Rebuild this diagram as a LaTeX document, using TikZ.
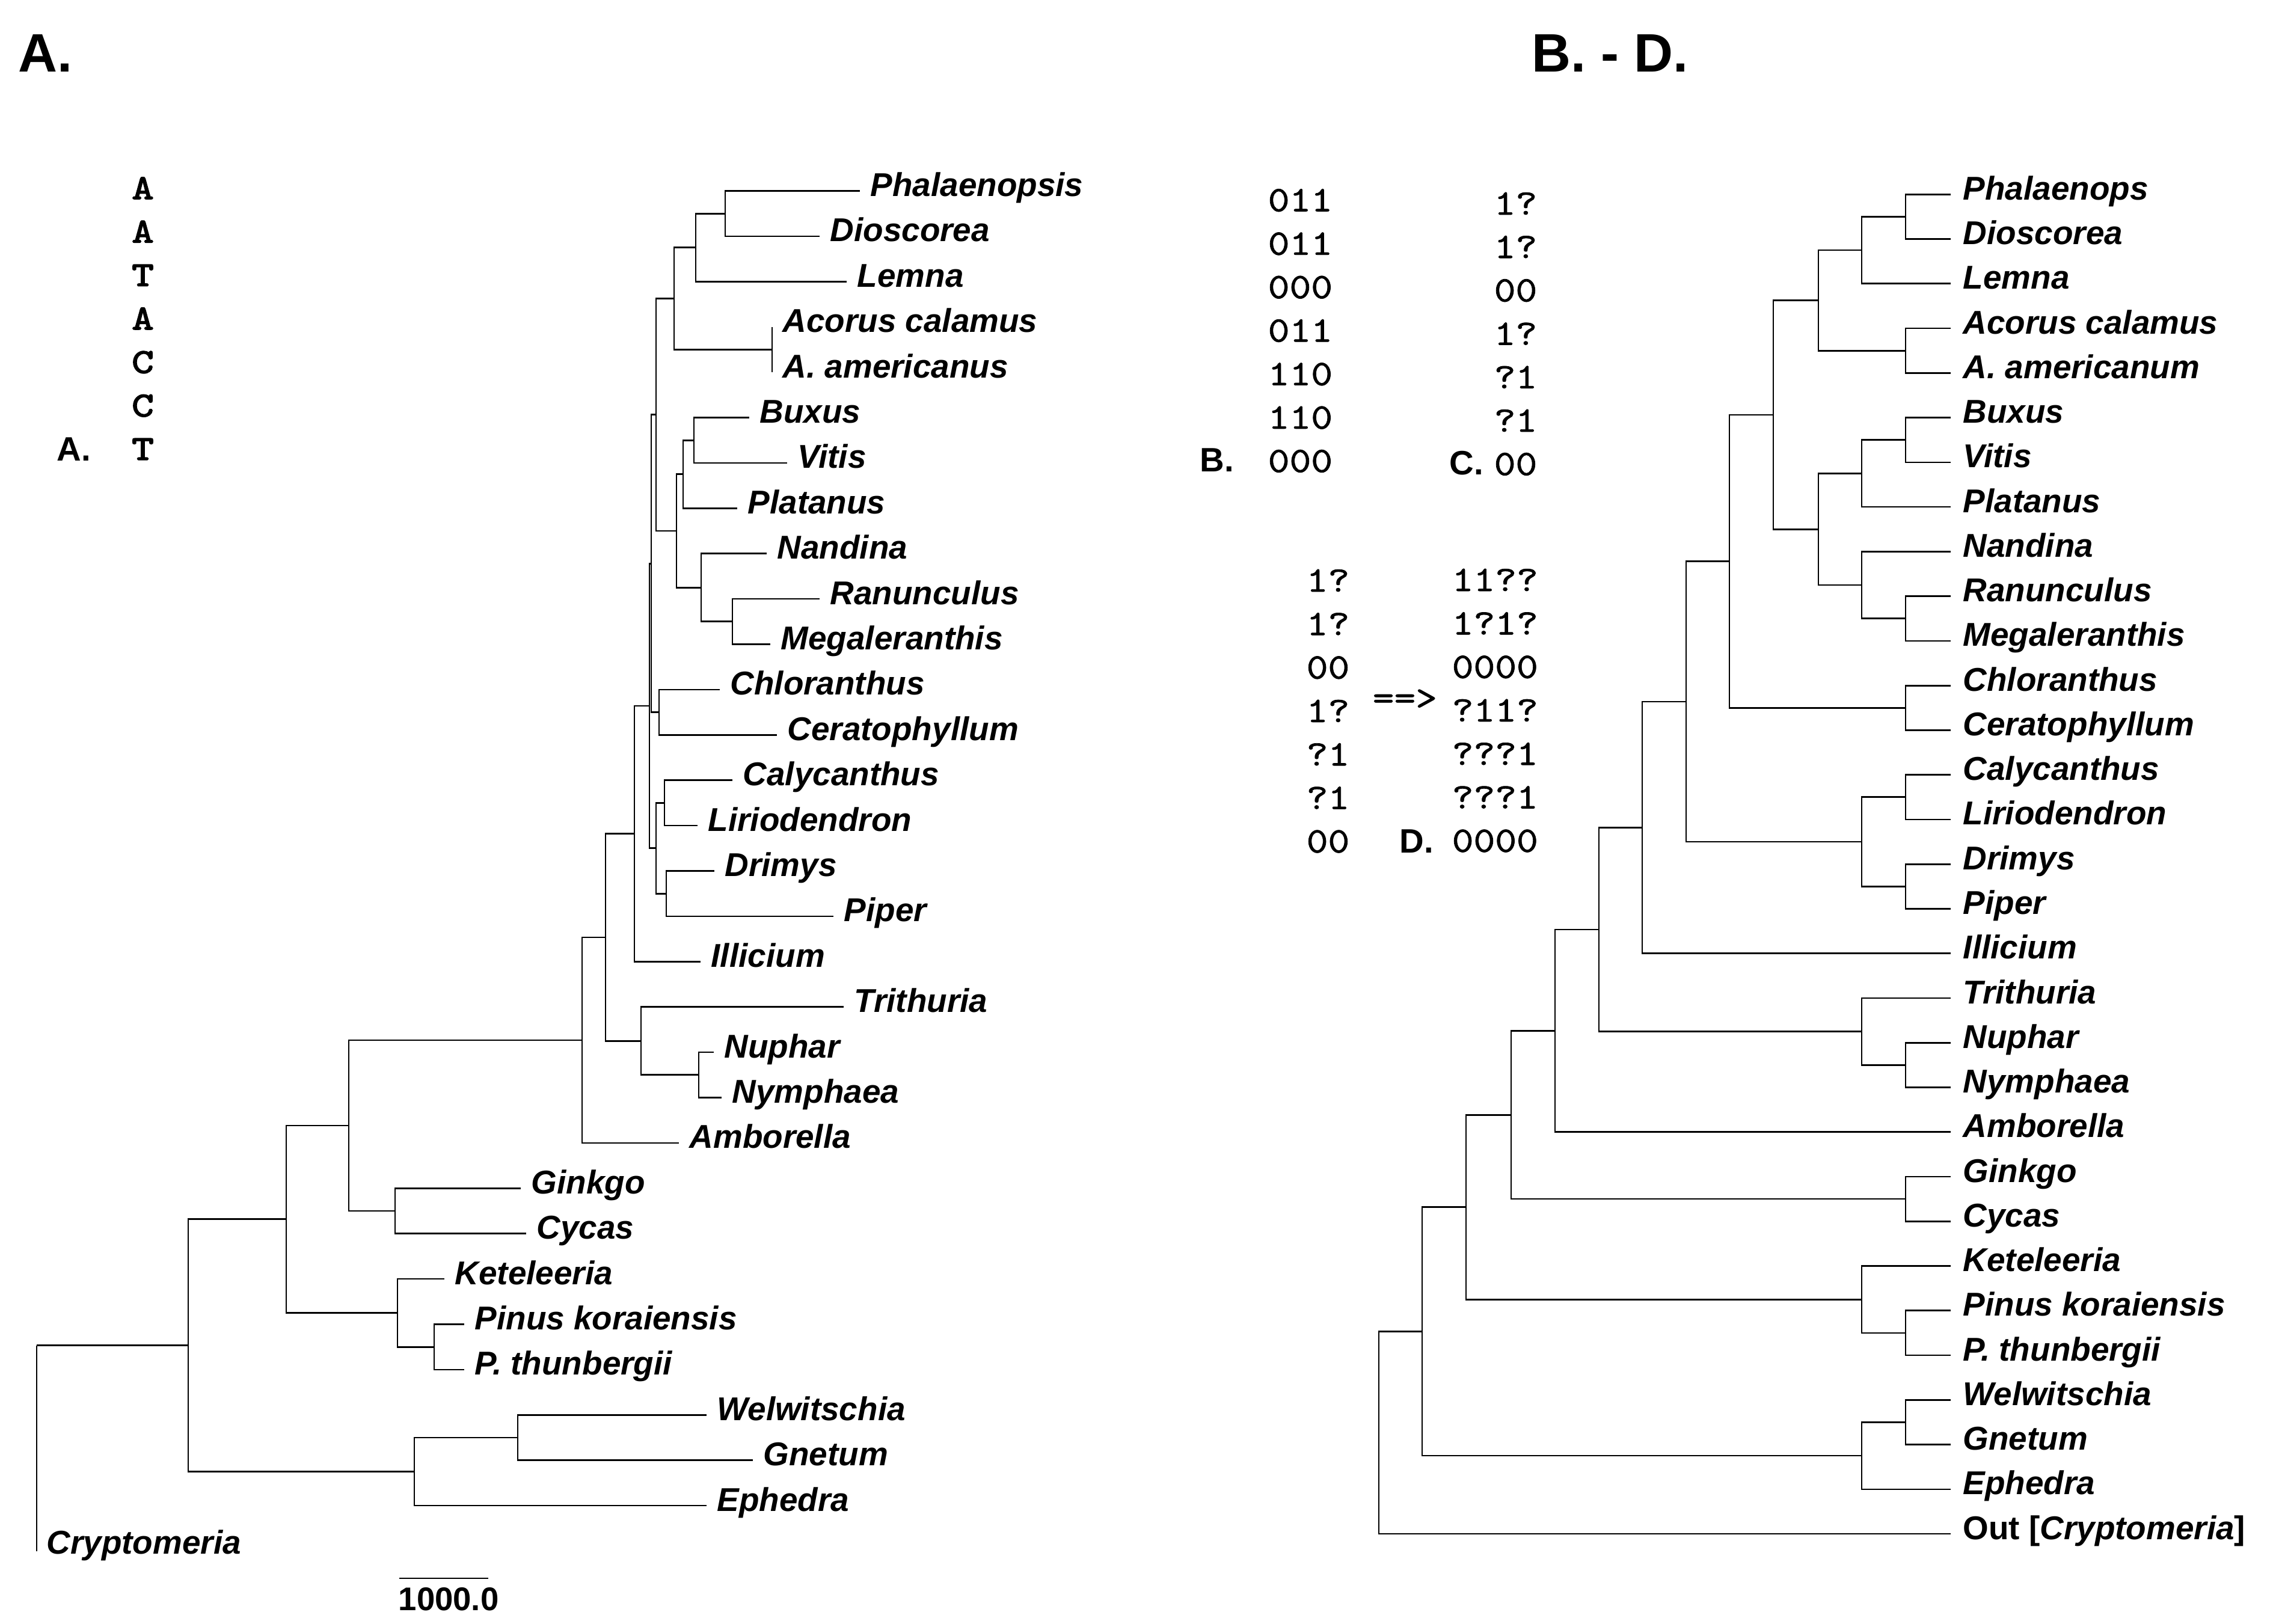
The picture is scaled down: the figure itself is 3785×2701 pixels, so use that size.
\documentclass[tikz,border=0pt]{standalone}
\usepackage{fontspec}
\setmainfont{Liberation Sans}
\newfontfamily\codefont[FakeStretch=1.14, FakeBold=1.2]{lmmono10-regular.otf}
\newfontfamily\seqfont[FakeStretch=1.2, FakeBold=3]{lmmono10-regular.otf}
\tikzset{
  br/.style={line width=0.75pt},
  labtext/.style={inner sep=0pt, anchor=base west, font=\fontsize{15.6pt}{18pt}\selectfont\bfseries\itshape},
  lab/.style={labtext, xshift=0.17cm, yshift=-0.09cm},
  rlab/.style={labtext, xshift=0.20cm, yshift=-0.09cm},
  code/.style={inner sep=0pt, anchor=base west, font=\fontsize{17pt}{20pt}\codefont},
  seq/.style={inner sep=0pt, anchor=base, font=\fontsize{16.5pt}{19pt}\seqfont},
  tag/.style={inner sep=0pt, anchor=base west, font=\fontsize{16pt}{19pt}\selectfont\bfseries},
  head/.style={inner sep=0pt, anchor=base west, font=\fontsize{25.6pt}{30pt}\selectfont\bfseries},
}
\begin{document}
\begin{tikzpicture}[x=0.01cm, y=-0.01cm]
\fill[white] (0,0) rectangle (3785,2701);
\useasboundingbox (0,0) rectangle (3785,2701);

% ---------------- headers ----------------
\node[head] (hA) at (30,120) {A.};
\node[head] (hBD) at (2547,120) {B. - D.};

% ---------------- sequence column ----------------
\foreach \t [count=\i from 0] in {A,A,T,A,C,C,T}
  \node[seq] (s\i) at (237.5,{331+72.3*\i}) {\t};
\node[tag] (tA) at (94,767) {A.};

% ---------------- B, C, D ----------------
\foreach \t [count=\i from 0] in {011,011,000,011,110,110,000}
  \node[code] (cb\i) at (2108,{351.4+72.3*\i}) {\t};
\foreach \t [count=\i from 0] in {1?,1?,00,1?,?1,?1,00}
  \node[code] (cc\i) at (2484,{357+72.2*\i}) {\t};
\foreach \t [count=\i from 0] in {1?,1?,00,1?,?1,?1,00}
  \node[code] (cd\i) at (2172,{984+72.3*\i}) {\t};
\foreach \t [count=\i from 0] in {11??,1?1?,0000,?11?,???1,???1,0000}
  \node[code] (ce\i) at (2414,{983+72.3*\i}) {\t};
\node[code] (arr) at (2282,1180) {==>};
\node[tag] (tB) at (1995,785) {B.};
\node[tag] (tC) at (2410,790) {C.};
\node[tag] (tD) at (2327,1418) {D.};

% ---------------- tree A: leaves ----------------
\coordinate (aPhal) at (1430,317.5);
\coordinate (aDios) at (1363,392.9);
\coordinate (aLemn) at (1408,468.3);
\coordinate (aAcor) at (1284,543.7);
\coordinate (aAame) at (1284,619.1);
\coordinate (aBuxu) at (1246,694.5);
\coordinate (aViti) at (1309,769.9);
\coordinate (aPlat) at (1226,845.3);
\coordinate (aNand) at (1275,920.7);
\coordinate (aRanu) at (1363,996.1);
\coordinate (aMega) at (1281,1071.5);
\coordinate (aChlo) at (1197,1146.9);
\coordinate (aCera) at (1292,1222.3);
\coordinate (aCaly) at (1218,1297.7);
\coordinate (aLiri) at (1160,1373.1);
\coordinate (aDrim) at (1188,1448.5);
\coordinate (aPipe) at (1386,1523.9);
\coordinate (aIlli) at (1165,1599.3);
\coordinate (aTrit) at (1403,1674.7);
\coordinate (aNuph) at (1187,1750.1);
\coordinate (aNymp) at (1200,1825.5);
\coordinate (aAmbo) at (1129,1900.9);
\coordinate (aGink) at (866,1976.3);
\coordinate (aCyca) at (875,2051.7);
\coordinate (aKete) at (739,2127.1);
\coordinate (aPinu) at (772,2202.5);
\coordinate (aPthu) at (772,2277.9);
\coordinate (aWelw) at (1175,2353.3);
\coordinate (aGnet) at (1252,2428.7);
\coordinate (aEphe) at (1175,2504.1);
\coordinate (aCryp) at (61,2580);

% ---------------- tree A: internal nodes ----------------
\coordinate (n1) at (1206,355.2);
\coordinate (n2) at (1157,411.8);
\coordinate (n3) at (1284,581.4);
\coordinate (n4) at (1121,496.6);
\coordinate (n5) at (1154,732.2);
\coordinate (n6) at (1136,788.8);
\coordinate (n7) at (1218,1033.8);
\coordinate (n8) at (1166,977.3);
\coordinate (n9) at (1125,883.0);
\coordinate (n10) at (1091,689.8);
\coordinate (n11) at (1096,1184.6);
\coordinate (nP) at (1083,937.2);
\coordinate (n12) at (1105,1335.4);
\coordinate (n13) at (1108,1486.2);
\coordinate (n14) at (1091,1410.8);
\coordinate (nQ) at (1080,1174.0);
\coordinate (n15) at (1055,1386.7);
\coordinate (n16) at (1162,1787.8);
\coordinate (n17) at (1066,1731.3);
\coordinate (n18) at (1007,1559.0);
\coordinate (n19) at (968,1730.0);
\coordinate (n20) at (657,2014.0);
\coordinate (n21) at (580,1872.0);
\coordinate (n22) at (722,2240.2);
\coordinate (n23) at (661,2183.7);
\coordinate (n24) at (476,2027.8);
\coordinate (n25) at (861,2391.0);
\coordinate (n26) at (689,2447.5);
\coordinate (n27) at (313,2237.7);
\coordinate (n0) at (61,2237.7);

\draw[br]
  (n1) |- (aPhal) (n1) |- (aDios)
  (n2) |- (n1) (n2) |- (aLemn)
  (n3) |- (aAcor) (n3) |- (aAame)
  (n4) |- (n2) (n4) |- (n3)
  (n5) |- (aBuxu) (n5) |- (aViti)
  (n6) |- (n5) (n6) |- (aPlat)
  (n7) |- (aRanu) (n7) |- (aMega)
  (n8) |- (aNand) (n8) |- (n7)
  (n9) |- (n6) (n9) |- (n8)
  (n10) |- (n4) (n10) |- (n9)
  (n11) |- (aChlo) (n11) |- (aCera)
  (nP) |- (n10) (nP) |- (n11)
  (n12) |- (aCaly) (n12) |- (aLiri)
  (n13) |- (aDrim) (n13) |- (aPipe)
  (n14) |- (n12) (n14) |- (n13)
  (nQ) |- (nP) (nQ) |- (n14)
  (n15) |- (nQ) (n15) |- (aIlli)
  (n16) |- (aNuph) (n16) |- (aNymp)
  (n17) |- (aTrit) (n17) |- (n16)
  (n18) |- (n15) (n18) |- (n17)
  (n19) |- (n18) (n19) |- (aAmbo)
  (n20) |- (aGink) (n20) |- (aCyca)
  (n21) |- (n19) (n21) |- (n20)
  (n22) |- (aPinu) (n22) |- (aPthu)
  (n23) |- (aKete) (n23) |- (n22)
  (n24) |- (n21) (n24) |- (n23)
  (n25) |- (aWelw) (n25) |- (aGnet)
  (n26) |- (n25) (n26) |- (aEphe)
  (n27) |- (n24) (n27) |- (n26)
  (n0) |- (n27) (n0) |- (aCryp);

% ---------------- tree A: labels ----------------
\node[lab] (LaPhal) at (aPhal) {Phalaenopsis};
\node[lab] (LaDios) at (aDios) {Dioscorea};
\node[lab] (LaLemn) at (aLemn) {Lemna};
\node[lab] (LaAcor) at (aAcor) {Acorus calamus};
\node[lab] (LaAame) at (aAame) {A. americanus};
\node[lab] (LaBuxu) at (aBuxu) {Buxus};
\node[lab] (LaViti) at (aViti) {Vitis};
\node[lab] (LaPlat) at (aPlat) {Platanus};
\node[lab] (LaNand) at (aNand) {Nandina};
\node[lab] (LaRanu) at (aRanu) {Ranunculus};
\node[lab] (LaMega) at (aMega) {Megaleranthis};
\node[lab] (LaChlo) at (aChlo) {Chloranthus};
\node[lab] (LaCera) at (aCera) {Ceratophyllum};
\node[lab] (LaCaly) at (aCaly) {Calycanthus};
\node[lab] (LaLiri) at (aLiri) {Liriodendron};
\node[lab] (LaDrim) at (aDrim) {Drimys};
\node[lab] (LaPipe) at (aPipe) {Piper};
\node[lab] (LaIlli) at (aIlli) {Illicium};
\node[lab] (LaTrit) at (aTrit) {Trithuria};
\node[lab] (LaNuph) at (aNuph) {Nuphar};
\node[lab] (LaNymp) at (aNymp) {Nymphaea};
\node[lab] (LaAmbo) at (aAmbo) {Amborella};
\node[lab] (LaGink) at (aGink) {Ginkgo};
\node[lab] (LaCyca) at (aCyca) {Cycas};
\node[lab] (LaKete) at (aKete) {Keteleeria};
\node[lab] (LaPinu) at (aPinu) {Pinus koraiensis};
\node[lab] (LaPthu) at (aPthu) {P. thunbergii};
\node[lab] (LaWelw) at (aWelw) {Welwitschia};
\node[lab] (LaGnet) at (aGnet) {Gnetum};
\node[lab] (LaEphe) at (aEphe) {Ephedra};
\node[labtext] (LaCryp) at (77,2584) {Cryptomeria};

% ---------------- scale bar ----------------
\coordinate (sb1) at (664,2625);
\coordinate (sb2) at (812,2625);
\draw[br] (sb1) -- (sb2);
\node[inner sep=0pt, anchor=base west, font=\fontsize{15.5pt}{18pt}\selectfont\bfseries] (sbl) at (662,2678) {1000.0};

% ---------------- tree B-D: leaves ----------------
\coordinate (bPhal) at (3244,323.3);
\coordinate (bDios) at (3244,397.6);
\coordinate (bLemn) at (3244,471.8);
\coordinate (bAcor) at (3244,546.1);
\coordinate (bAame) at (3244,620.3);
\coordinate (bBuxu) at (3244,694.6);
\coordinate (bViti) at (3244,768.9);
\coordinate (bPlat) at (3244,843.1);
\coordinate (bNand) at (3244,917.4);
\coordinate (bRanu) at (3244,991.6);
\coordinate (bMega) at (3244,1065.9);
\coordinate (bChlo) at (3244,1140.2);
\coordinate (bCera) at (3244,1214.4);
\coordinate (bCaly) at (3244,1288.7);
\coordinate (bLiri) at (3244,1362.9);
\coordinate (bDrim) at (3244,1437.2);
\coordinate (bPipe) at (3244,1511.5);
\coordinate (bIlli) at (3244,1585.7);
\coordinate (bTrit) at (3244,1660.0);
\coordinate (bNuph) at (3244,1734.2);
\coordinate (bNymp) at (3244,1808.5);
\coordinate (bAmbo) at (3244,1882.8);
\coordinate (bGink) at (3244,1957.0);
\coordinate (bCyca) at (3244,2031.3);
\coordinate (bKete) at (3244,2105.5);
\coordinate (bPinu) at (3244,2179.8);
\coordinate (bPthu) at (3244,2254.1);
\coordinate (bWelw) at (3244,2328.3);
\coordinate (bGnet) at (3244,2402.6);
\coordinate (bEphe) at (3244,2476.8);
\coordinate (bOut) at (3244,2551.1);

% ---------------- tree B-D: internal nodes ----------------
\coordinate (r1) at (3169,360.45);
\coordinate (r2) at (3096,416.1);
\coordinate (r3) at (3169,583.2);
\coordinate (r4) at (3024,499.7);
\coordinate (r5) at (3169,731.75);
\coordinate (r6) at (3096,787.4);
\coordinate (r7) at (3169,1028.75);
\coordinate (r8) at (3096,973.1);
\coordinate (r9) at (3024,880.25);
\coordinate (r10) at (2949,690);
\coordinate (r11) at (3169,1177.3);
\coordinate (r12) at (2876,933.6);
\coordinate (r13) at (3169,1325.8);
\coordinate (r14) at (3169,1474.35);
\coordinate (r15) at (3096,1400.1);
\coordinate (r16) at (2804,1166.9);
\coordinate (r17) at (2731,1376.3);
\coordinate (r18) at (3169,1771.35);
\coordinate (r19) at (3096,1715.7);
\coordinate (r20) at (2659,1546);
\coordinate (r21) at (2586,1714.4);
\coordinate (r22) at (3169,1994.15);
\coordinate (r23) at (2513,1854.3);
\coordinate (r24) at (3169,2216.95);
\coordinate (r25) at (3096,2161.2);
\coordinate (r26) at (2438,2007.75);
\coordinate (r27) at (3169,2365.45);
\coordinate (r28) at (3096,2421.1);
\coordinate (r29) at (2365,2214.4);
\coordinate (r0) at (2293,2382.8);

\draw[br]
  (r1) |- (bPhal) (r1) |- (bDios)
  (r2) |- (r1) (r2) |- (bLemn)
  (r3) |- (bAcor) (r3) |- (bAame)
  (r4) |- (r2) (r4) |- (r3)
  (r5) |- (bBuxu) (r5) |- (bViti)
  (r6) |- (r5) (r6) |- (bPlat)
  (r7) |- (bRanu) (r7) |- (bMega)
  (r8) |- (bNand) (r8) |- (r7)
  (r9) |- (r6) (r9) |- (r8)
  (r10) |- (r4) (r10) |- (r9)
  (r11) |- (bChlo) (r11) |- (bCera)
  (r12) |- (r10) (r12) |- (r11)
  (r13) |- (bCaly) (r13) |- (bLiri)
  (r14) |- (bDrim) (r14) |- (bPipe)
  (r15) |- (r13) (r15) |- (r14)
  (r16) |- (r12) (r16) |- (r15)
  (r17) |- (r16) (r17) |- (bIlli)
  (r18) |- (bNuph) (r18) |- (bNymp)
  (r19) |- (bTrit) (r19) |- (r18)
  (r20) |- (r17) (r20) |- (r19)
  (r21) |- (r20) (r21) |- (bAmbo)
  (r22) |- (bGink) (r22) |- (bCyca)
  (r23) |- (r21) (r23) |- (r22)
  (r24) |- (bPinu) (r24) |- (bPthu)
  (r25) |- (bKete) (r25) |- (r24)
  (r26) |- (r23) (r26) |- (r25)
  (r27) |- (bWelw) (r27) |- (bGnet)
  (r28) |- (r27) (r28) |- (bEphe)
  (r29) |- (r26) (r29) |- (r28)
  (r0) |- (r29) (r0) |- (bOut);

% ---------------- tree B-D: labels ----------------
\node[rlab] (LbPhal) at (bPhal) {Phalaenops};
\node[rlab] (LbDios) at (bDios) {Dioscorea};
\node[rlab] (LbLemn) at (bLemn) {Lemna};
\node[rlab] (LbAcor) at (bAcor) {Acorus calamus};
\node[rlab] (LbAame) at (bAame) {A. americanum};
\node[rlab] (LbBuxu) at (bBuxu) {Buxus};
\node[rlab] (LbViti) at (bViti) {Vitis};
\node[rlab] (LbPlat) at (bPlat) {Platanus};
\node[rlab] (LbNand) at (bNand) {Nandina};
\node[rlab] (LbRanu) at (bRanu) {Ranunculus};
\node[rlab] (LbMega) at (bMega) {Megaleranthis};
\node[rlab] (LbChlo) at (bChlo) {Chloranthus};
\node[rlab] (LbCera) at (bCera) {Ceratophyllum};
\node[rlab] (LbCaly) at (bCaly) {Calycanthus};
\node[rlab] (LbLiri) at (bLiri) {Liriodendron};
\node[rlab] (LbDrim) at (bDrim) {Drimys};
\node[rlab] (LbPipe) at (bPipe) {Piper};
\node[rlab] (LbIlli) at (bIlli) {Illicium};
\node[rlab] (LbTrit) at (bTrit) {Trithuria};
\node[rlab] (LbNuph) at (bNuph) {Nuphar};
\node[rlab] (LbNymp) at (bNymp) {Nymphaea};
\node[rlab] (LbAmbo) at (bAmbo) {Amborella};
\node[rlab] (LbGink) at (bGink) {Ginkgo};
\node[rlab] (LbCyca) at (bCyca) {Cycas};
\node[rlab] (LbKete) at (bKete) {Keteleeria};
\node[rlab] (LbPinu) at (bPinu) {Pinus koraiensis};
\node[rlab] (LbPthu) at (bPthu) {P. thunbergii};
\node[rlab] (LbWelw) at (bWelw) {Welwitschia};
\node[rlab] (LbGnet) at (bGnet) {Gnetum};
\node[rlab] (LbEphe) at (bEphe) {Ephedra};
\node[rlab] (LbOut) at (bOut) {\upshape Out [\itshape Cryptomeria\upshape ]};
\end{tikzpicture}
\end{document}
